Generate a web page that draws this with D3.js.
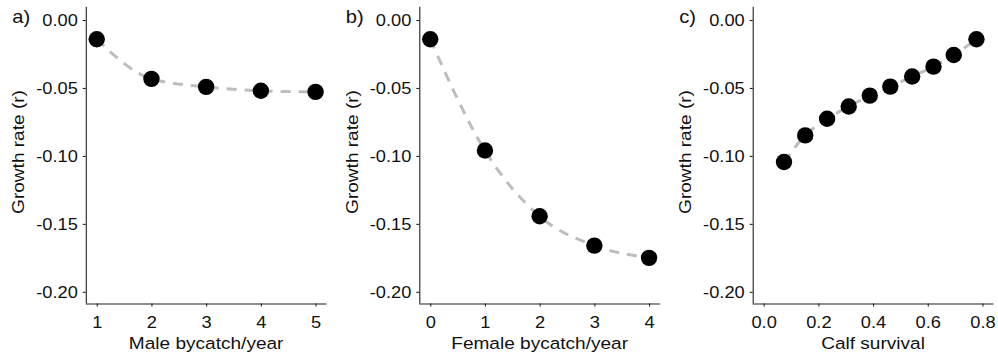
<!DOCTYPE html>
<html>
<head>
<meta charset="utf-8">
<script src="https://cdn.jsdelivr.net/npm/d3@7"></script>
<style>
  body { margin: 0; background: #fff; }
  svg { display: block; font-family: "Liberation Sans", Arial, Helvetica, sans-serif; }
</style>
</head>
<body>
<svg id="chart" width="998" height="360"></svg>
<script>
// values
const maleBycatch = [1, 2, 3, 4, 5];
const maleGrowth = [-0.0142, -0.0433, -0.0492, -0.0521, -0.0529];
const femaleBycatch = [0, 1, 2, 3, 4];
const femaleGrowth = [-0.0142, -0.0960, -0.1444, -0.1660, -0.1750];
const calfSurvival = [0.0744, 0.152, 0.232, 0.311, 0.388, 0.463, 0.543, 0.621, 0.695, 0.778];
const calfGrowth = [-0.1045, -0.0849, -0.0727, -0.0636, -0.0556, -0.0490, -0.0416, -0.0343, -0.0257, -0.0142];

const growthTicks = [0, -0.05, -0.10, -0.15, -0.20];
const maleTicks = [1, 2, 3, 4, 5];
const femaleTicks = [0, 1, 2, 3, 4];
const calfTicks = [0, 0.2, 0.4, 0.6, 0.8];

const panelLabels = ["a)", "b)", "c)"];
const xTitles = ["Male bycatch/year", "Female bycatch/year", "Calf survival"];
const yTitle = "Growth rate (r)";

const svg = d3.select("#chart");

// glyphs in the figure run wider than Arial, stretch along the text direction
const TICK_STRETCH = 1.12, TITLE_STRETCH = 1.17;
const fontSize = 16.3;
const axisColor = "#222";

const y = d3.scaleLinear().domain([-0.2086, 0.0098]).range([303.5, 6.7]);

const panels = [
    {x: maleBycatch, y: maleGrowth, ticks: maleTicks, domain: [0.8, 5.2], left: 85.8, fmt: d => d},
    {x: femaleBycatch, y: femaleGrowth, ticks: femaleTicks, domain: [-0.2, 4.2], left: 419.3, fmt: d => d},
    {x: calfSurvival, y: calfGrowth, ticks: calfTicks, domain: [-0.04, 0.84], left: 752.7, fmt: d => d.toFixed(1)}
];
const panelWidth = 240.7;

panels.forEach((p, i) => {
    const x = d3.scaleLinear().domain(p.domain).range([p.left, p.left + panelWidth]);
    const pts = p.x.map((v, k) => [v, p.y[k]]);
    const g = svg.append("g");

    // dashed trend line behind the points
    const line = d3.line()
        .x(d => x(d[0]))
        .y(d => y(d[1]))
        .curve(d3.curveMonotoneX);
    g.append("path")
        .datum(pts)
        .attr("d", line)
        .attr("fill", "none")
        .attr("stroke", "#bdbdbd")
        .attr("stroke-width", 3)
        .attr("stroke-dasharray", "10,8");

    g.selectAll("circle")
        .data(pts)
        .enter().append("circle")
        .attr("cx", d => x(d[0]))
        .attr("cy", d => y(d[1]))
        .attr("r", 8.2)
        .attr("fill", "#000");

    // y axis
    const yAxis = g.append("g")
        .attr("transform", `translate(${p.left},0)`)
        .call(d3.axisLeft(y).tickValues(growthTicks).tickSize(3).tickPadding(5)
            .tickFormat(d => d.toFixed(2)));
    // x axis
    const xAxis = g.append("g")
        .attr("transform", `translate(0,${y.range()[0]})`)
        .call(d3.axisBottom(x).tickValues(p.ticks).tickSize(3).tickPadding(10)
            .tickFormat(p.fmt));

    [yAxis, xAxis].forEach(ax => {
        ax.select(".domain").attr("stroke", axisColor).attr("stroke-width", 1.1)
            .attr("d", ax === yAxis
                ? `M0.5,${y.range()[1]}V${y.range()[0]}`
                : `M${p.left},0.5H${p.left + panelWidth}`);
        ax.selectAll(".tick line").attr("stroke", axisColor).attr("stroke-width", 1.1);
        ax.selectAll(".tick text")
            .attr("fill", "#111")
            .style("font-size", fontSize + "px")
            .style("font-family", null);
    });
    yAxis.selectAll(".tick text")
        .attr("x", -8 / TICK_STRETCH)
        .attr("transform", `scale(${TICK_STRETCH},1)`);
    xAxis.selectAll(".tick text")
        .attr("transform", `scale(${TICK_STRETCH},1)`);

    // titles
    g.append("text")
        .attr("transform", `translate(${p.left + panelWidth / 2},349.3) scale(${TITLE_STRETCH},1)`)
        .attr("text-anchor", "middle")
        .style("font-size", fontSize + "px")
        .attr("fill", "#111")
        .text(xTitles[i]);

    g.append("text")
        .attr("transform", `translate(${p.left - 61.7},152) rotate(-90) scale(${TITLE_STRETCH},1)`)
        .attr("text-anchor", "middle")
        .style("font-size", fontSize + "px")
        .attr("fill", "#111")
        .text(yTitle);

    g.append("text")
        .attr("transform", `translate(${p.left - 73.5},23) scale(${TICK_STRETCH},1)`)
        .style("font-size", "18px")
        .attr("fill", "#111")
        .text(panelLabels[i]);
});
</script>
</body>
</html>
